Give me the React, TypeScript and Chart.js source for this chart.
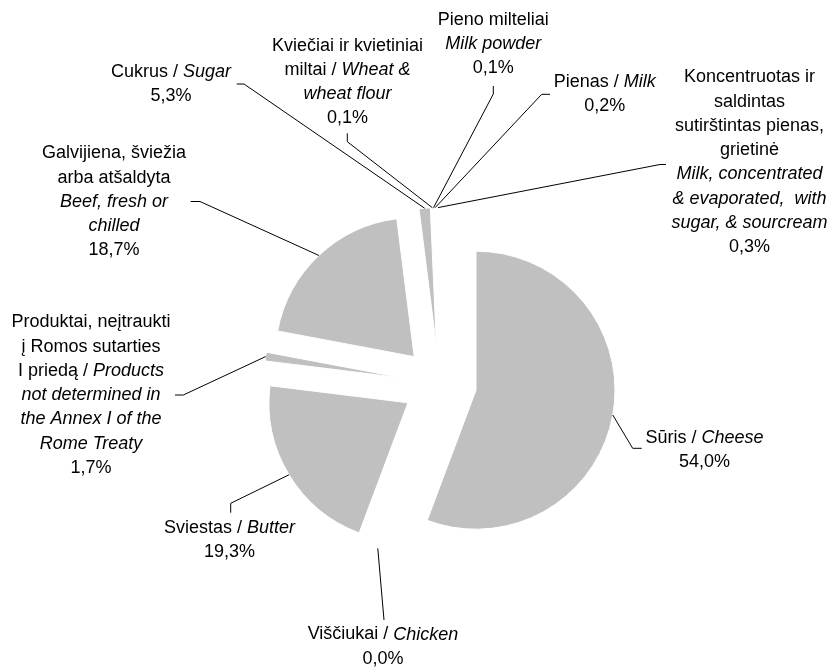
import React, { useEffect, useRef } from "react";
import { Chart, registerables } from "chart.js";

Chart.register(...registerables);

// ---- Data ----
const categories = [
  "Sūris / Cheese",
  "Viščiukai / Chicken",
  "Sviestas / Butter",
  "Produktai, neįtraukti į Romos sutarties I priedą / Products not determined in the Annex I of the Rome Treaty",
  "Galvijiena, šviežia arba atšaldyta / Beef, fresh or chilled",
  "Cukrus / Sugar",
  "Kviečiai ir kvietiniai miltai / Wheat & wheat flour",
  "Pieno milteliai / Milk powder",
  "Pienas / Milk",
  "Koncentruotas ir saldintas sutirštintas pienas, grietinė / Milk, concentrated & evaporated, with sugar, & sourcream",
];

// slice sizes as drawn in the picture (share of the circle, %)
const sliceValues = [55.6, 0, 21.2, 1.0, 20.0, 1.3, 0.1, 0.1, 0.2, 0.3];

// percentages printed in the labels
const percentLabels = ["54,0%", "0,0%", "19,3%", "1,7%", "18,7%", "5,3%", "0,1%", "0,1%", "0,2%", "0,3%"];

// label text lines; parts between * are italic
const labelLines = [
  ["Sūris / *Cheese*"],
  ["Viščiukai / *Chicken*"],
  ["Sviestas / *Butter*"],
  ["Produktai, neįtraukti", "į Romos sutarties", "I priedą / *Products*", "*not determined in*", "*the Annex I of the*", "*Rome Treaty*"],
  ["Galvijiena, šviežia", "arba atšaldyta", "*Beef, fresh or*", "*chilled*"],
  ["Cukrus / *Sugar*"],
  ["Kviečiai ir kvietiniai", "miltai / *Wheat &*", "*wheat flour*"],
  ["Pieno milteliai", "*Milk powder*"],
  ["Pienas / *Milk*"],
  ["Koncentruotas ir", "saldintas", "sutirštintas pienas,", "grietinė", "*Milk, concentrated*", "*& evaporated,  with*", "*sugar, & sourcream*"],
];

// ---- Layout (positions / styles) ----
const W = 832;
const H = 668;
const PIE_CX = 439.6;
const PIE_CY = 383.6;
const PIE_R = 139;
const EXPLODE = 37;
const LINE_H = 24.2;
const FONT_FAMILY = "'Liberation Sans', Arial, sans-serif";
const FONT_SIZE = 18;
const SLICE_COLOR = "#c0c0c0";
const MIN_VISIBLE_ARC_PX = 3; // slivers thinner than this are not visible in the original

// label block: centre x, centre y of first line
const labelPos: [number, number][] = [
  [704.5, 438],
  [383, 634.5],
  [229.5, 528],
  [91, 322.5],
  [114, 153.5],
  [171, 72],
  [347.5, 45.8],
  [493.3, 20],
  [604.7, 82.2],
  [749.5, 77.5],
];

// leader line points after the slice edge point
const leaderTails: [number, number][][] = [
  [[632.7, 448.3], [641.7, 448.3]],
  [[384, 620]],
  [[230.7, 503.3], [230.7, 512.7]],
  [[183.3, 395], [175, 395]],
  [[200, 201.5], [190.7, 201.5]],
  [[244, 84], [236.7, 84]],
  [[347.3, 141.7], [347.3, 133.3]],
  [[493.3, 94], [493.3, 86]],
  [[541.7, 94.3], [550, 94.3]],
  [[660, 164.5], [666, 164.5]],
];

function fontFor(italic: boolean) {
  return `${italic ? "italic " : ""}${FONT_SIZE}px ${FONT_FAMILY}`;
}

function drawRichLine(ctx: CanvasRenderingContext2D, line: string, cx: number, cy: number) {
  const parts = line
    .split("*")
    .map((t, k) => ({ t, it: k % 2 === 1 }))
    .filter((p) => p.t.length > 0);
  let total = 0;
  const widths = parts.map((p) => {
    ctx.font = fontFor(p.it);
    const w = ctx.measureText(p.t).width;
    total += w;
    return w;
  });
  let x = cx - total / 2;
  parts.forEach((p, k) => {
    ctx.font = fontFor(p.it);
    ctx.fillText(p.t, x, cy);
    x += widths[k];
  });
}

const explodePlugin = {
  id: "explodeSlices",
  afterDatasetUpdate(chart: any, args: any) {
    const meta = args.meta || chart.getDatasetMeta(args.index);
    meta.data.forEach((el: any) => {
      const mid = (el.startAngle + el.endAngle) / 2;
      el.x += Math.cos(mid) * EXPLODE;
      el.y += Math.sin(mid) * EXPLODE;
    });
  },
};

const labelPlugin = {
  id: "sliceLabels",
  afterDraw(chart: any) {
    const ctx: CanvasRenderingContext2D = chart.ctx;
    const meta = chart.getDatasetMeta(0);
    ctx.save();
    ctx.strokeStyle = "#000";
    ctx.lineWidth = 1;
    ctx.fillStyle = "#000";
    ctx.textAlign = "left";
    ctx.textBaseline = "middle";
    meta.data.forEach((el: any, i: number) => {
      const mid = (el.startAngle + el.endAngle) / 2;
      const px = el.x + Math.cos(mid) * el.outerRadius;
      const py = el.y + Math.sin(mid) * el.outerRadius;
      ctx.beginPath();
      ctx.moveTo(px, py);
      leaderTails[i].forEach(([tx, ty]) => ctx.lineTo(tx, ty));
      ctx.stroke();
      const lines = [...labelLines[i], percentLabels[i]];
      const [cx, cy] = labelPos[i];
      lines.forEach((ln, k) => drawRichLine(ctx, ln, cx, cy + k * LINE_H));
    });
    ctx.restore();
  },
};

export default function App() {
  const canvasRef = useRef<HTMLCanvasElement | null>(null);

  useEffect(() => {
    const canvas = canvasRef.current;
    if (!canvas) return;
    const total = sliceValues.reduce((a, b) => a + b, 0);
    const fillColors = sliceValues.map((v) =>
      (v / total) * 2 * Math.PI * PIE_R < MIN_VISIBLE_ARC_PX ? "#ffffff" : SLICE_COLOR
    );
    const chart = new Chart(canvas, {
      type: "pie",
      data: {
        labels: categories,
        datasets: [
          {
            data: sliceValues,
            backgroundColor: fillColors,
            borderColor: "#ffffff",
            borderWidth: 1,
            hoverOffset: 0,
          },
        ],
      },
      options: {
        responsive: false,
        animation: false,
        radius: PIE_R,
        rotation: 0,
        layout: {
          padding: {
            left: 2 * PIE_CX - W,
            right: 0,
            top: 2 * PIE_CY - H,
            bottom: 0,
          },
        },
        plugins: {
          legend: { display: false },
          tooltip: { enabled: false },
        },
        events: [],
      } as any,
      plugins: [explodePlugin, labelPlugin],
    });
    return () => chart.destroy();
  }, []);

  return (
    <div style={{ position: "fixed", left: 0, top: 0, width: W, height: H, background: "#fff" }}>
      <canvas ref={canvasRef} width={W} height={H} style={{ display: "block", width: W, height: H }} />
    </div>
  );
}
